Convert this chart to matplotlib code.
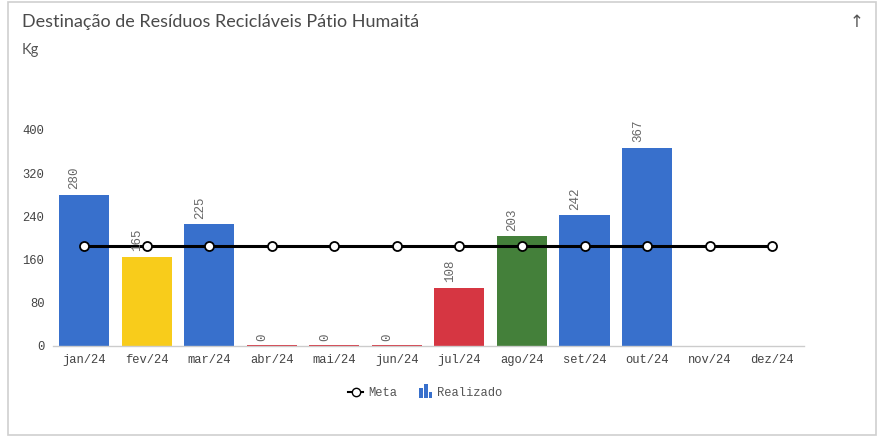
import matplotlib
matplotlib.use("Agg")
import matplotlib.pyplot as plt
from matplotlib.patches import Rectangle
from matplotlib.lines import Line2D
from matplotlib.legend_handler import HandlerBase
import numpy as np

months = ["jan/24", "fev/24", "mar/24", "abr/24", "mai/24", "jun/24",
          "jul/24", "ago/24", "set/24", "out/24", "nov/24", "dez/24"]
realizado = [280, 165, 225, 0, 0, 0, 108, 203, 242, 367, None, None]
meta = [185] * 12
bar_colors = ["#3870cc", "#f8cc1b", "#3870cc", "#d63642", "#d63642", "#d63642",
              "#d63642", "#44803a", "#3870cc", "#3870cc", "#3870cc", "#3870cc"]
yticks = [0, 80, 160, 240, 320, 400]

W, H = 877, 437
fig = plt.figure(figsize=(W / 100, H / 100), dpi=100)
fig.patch.set_facecolor("white")

# card border
fig.add_artist(Rectangle((8 / W, 2 / H), (W - 9) / W, (H - 4) / H, transform=fig.transFigure,
                         fill=False, edgecolor="#cfcfcf", linewidth=1.2))

title_font = ["Lato", "DejaVu Sans"]
fig.text(22 / W, 1 - 22 / H, "Destinação de Resíduos Recicláveis Pátio Humaitá",
         family=title_font, fontsize=13, color="#4a4a4a", va="center", ha="left")
fig.text(22 / W, 1 - 50 / H, "Kg", family=title_font, fontsize=10.5, color="#555555",
         va="center", ha="left")
fig.text(857 / W, 1 - 22 / H, "↑", family="DejaVu Sans", fontsize=12, color="#555555",
         va="center", ha="center")

left_px, right_px = 52.7, 803.5
y0_px, y400_px = 346, 130
ax = fig.add_axes([left_px / W, 1 - y0_px / H, (right_px - left_px) / W, (y0_px - y400_px) / H])
ax.set_xlim(-0.5, 11.5)
ax.set_ylim(0, 400)

mono = "Liberation Mono"
x = np.arange(len(months))
for i, v in enumerate(realizado):
    if v is None:
        continue
    h = v if v > 0 else 2.5
    ax.bar(x[i], h, width=0.8, color=bar_colors[i], zorder=2)
    ax.text(x[i] - 0.15, v + 10, str(v), rotation=90, ha="center", va="bottom",
            family=mono, fontsize=9, color="#666666", zorder=4, clip_on=False)

ax.plot(x, meta, color="black", linewidth=2.2, marker="o", markersize=6.5,
        markerfacecolor="white", markeredgecolor="black", markeredgewidth=1.3, zorder=3)

for s in ["top", "right", "left"]:
    ax.spines[s].set_visible(False)
ax.spines["bottom"].set_color("#cccccc")
ax.spines["bottom"].set_linewidth(1)
ax.set_xticks(x)
ax.set_xticklabels(months, family=mono, fontsize=8.7, color="#444444")
ax.set_yticks(yticks)
ax.set_yticklabels([str(t) for t in yticks], family=mono, fontsize=8.7, color="#444444")
ax.tick_params(axis="both", length=0)
ax.tick_params(axis="x", pad=6)
ax.tick_params(axis="y", pad=6)


class BarIconHandler(HandlerBase):
    def create_artists(self, legend, orig_handle, xdescent, ydescent, width, height, fontsize, trans):
        arts = []
        bw = 2.4
        gap = 1.0
        heights = [1.25, 1.65, 0.75]
        x0 = xdescent + width - 3 * bw - 2 * gap
        for k, hh in enumerate(heights):
            r = Rectangle((x0 + k * (bw + gap), -ydescent - height * 0.25),
                          bw, height * hh, facecolor="#3870cc", edgecolor="none",
                          transform=trans)
            arts.append(r)
        return arts


class BarH:
    pass


meta_handle = Line2D([0], [0], color="black", linewidth=1.5, marker="o", markersize=6,
                     markerfacecolor="white", markeredgecolor="black")
leg = fig.legend([meta_handle, BarH()], ["Meta", "Realizado"], loc="center",
                 bbox_to_anchor=(425 / W, 1 - 393 / H), ncol=2, frameon=False,
                 prop={"family": mono, "size": 8.7}, handlelength=1.3, handletextpad=0.4,
                 columnspacing=1.6, handler_map={BarH: BarIconHandler()})
for t in leg.get_texts():
    t.set_color("#555555")

fig.savefig("out.png", dpi=100, facecolor="white")
